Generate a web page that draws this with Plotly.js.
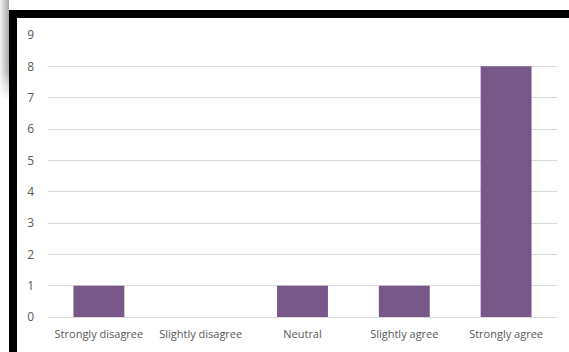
<!DOCTYPE html>
<html>
<head>
<meta charset="utf-8">
<script src="https://cdn.plot.ly/plotly-3.0.1.min.js"></script>
<style>
  html, body { margin: 0; padding: 0; background: #ffffff; }
  #wrap { position: relative; width: 569px; height: 352px; overflow: hidden; background: #ffffff; }
  /* soft grey shadow at the top-left edge */
  #shadow {
    position: absolute; left: 0; top: 0; width: 9px; height: 100px;
    background: linear-gradient(to right, #f2f2f2, #a8a8a8);
    -webkit-mask-image: linear-gradient(to bottom, #000 70%, transparent);
    mask-image: linear-gradient(to bottom, #000 70%, transparent);
  }
  /* black frame along the top and left */
  #frame {
    position: absolute; left: 9px; top: 10px; width: 560px; height: 342px;
    box-sizing: border-box; border-top: 8px solid #000; border-left: 8px solid #000;
    background: #ffffff;
  }
  #chart { position: absolute; left: 0; top: 0; width: 569px; height: 352px; }
</style>
</head>
<body>
<div id="wrap">
  <div id="shadow"></div>
  <div id="frame"></div>
  <div id="chart"></div>
</div>
<script>
// Survey responses per answer option
const categories = ["Strongly disagree", "Slightly disagree", "Neutral", "Slightly agree", "Strongly agree"];
const counts = [1, 0, 1, 1, 8];
const yTicks = [0, 1, 2, 3, 4, 5, 6, 7, 8, 9];

const trace = {
  type: "bar",
  x: categories,
  y: counts,
  marker: { color: "#785888", line: { width: 0 } },
  hoverinfo: "x+y"
};

const layout = {
  width: 569,
  height: 352,
  margin: { l: 48, r: 12, t: 35, b: 35 },
  paper_bgcolor: "rgba(0,0,0,0)",
  plot_bgcolor: "rgba(0,0,0,0)",
  bargap: 0.5,
  showlegend: false,
  font: { family: "'Open Sans', sans-serif", size: 11, color: "#595959" },
  xaxis: {
    type: "category",
    showgrid: false,
    zeroline: false,
    showline: false,
    ticks: "",
    tickfont: { size: 11, color: "#595959" },
    ticklabelstandoff: 9,
    fixedrange: true
  },
  yaxis: {
    range: [0, 9],
    tickvals: yTicks,
    ticktext: yTicks.map(String),
    showgrid: true,
    gridcolor: "#d9d9d9",
    gridwidth: 1,
    zeroline: true,
    zerolinecolor: "#d9d9d9",
    zerolinewidth: 1,
    showline: false,
    ticks: "",
    tickfont: { size: 12, color: "#595959" },
    ticklabelstandoff: 13,
    fixedrange: true
  }
};

Plotly.newPlot("chart", [trace], layout, { displayModeBar: false, staticPlot: true });
</script>
</body>
</html>
